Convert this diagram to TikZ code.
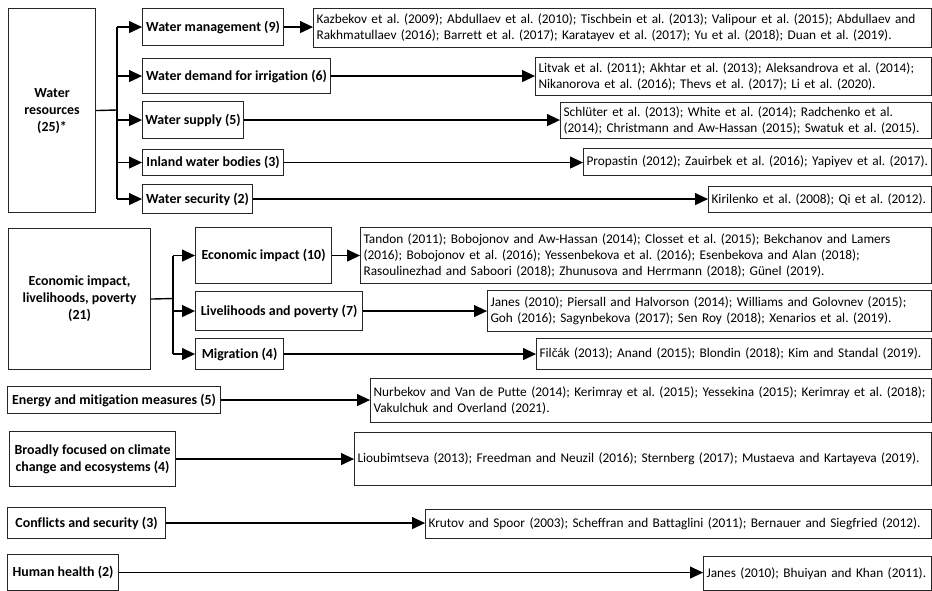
\documentclass[tikz,border=0pt]{standalone}
\usepackage{fontspec}
\setmainfont{Carlito}[Ligatures=NoCommon]
\usetikzlibrary{arrows.meta}

\begin{document}
\begin{tikzpicture}[x=1pt,y=-1pt,
        topic/.style={draw=black!85,line width=1.1pt,anchor=north west,align=center,inner sep=2pt,
            font=\bfseries\fontsize{13.9}{17}\selectfont\frenchspacing},
        refs/.style={draw=black!85,line width=1.1pt,anchor=north west,align=left,inner xsep=3pt,inner ysep=2pt,
            font=\fontsize{13.3}{16.3}\selectfont\frenchspacing},
        link/.style={line width=1.2pt,-{Triangle[length=13pt,width=12pt]}},
        fork/.style={line width=1.4pt}]
        \useasboundingbox (0,0) rectangle (932,591);

        % water resources
        \node[topic,minimum width=87,minimum height=204] (wr) at (8,8) {Water\\resources\\(25)*};
        \node[topic,minimum width=141,minimum height=37] (wm) at (142,8) {Water management (9)};
        \node[topic,minimum width=188,minimum height=35] (wd) at (142,58) {Water demand for irrigation (6)};
        \node[topic,minimum width=101,minimum height=37] (ws) at (142,101) {Water supply (5)};
        \node[topic,minimum width=141,minimum height=26] (wi) at (142,149) {Inland water bodies (3)};
        \node[topic,minimum width=110,minimum height=29] (wsec) at (142,184) {Water security (2)};

        \node[refs,text width=612,minimum height=39] (wmref) at (313,8) {Kazbekov et al. (2009); Abdullaev et al. (2010); Tischbein et al. (2013); Valipour et al. (2015); Abdullaev and\\Rakhmatullaev (2016); Barrett et al. (2017); Karatayev et al. (2017); Yu et al. (2018); Duan et al. (2019).};
        \node[refs,text width=390,minimum height=38] (wdref) at (535,57) {Litvak et al. (2011); Akhtar et al. (2013); Aleksandrova et al. (2014);\\Nikanorova et al. (2016); Thevs et al. (2017); Li et al. (2020).};
        \node[refs,text width=365,minimum height=36] (wsref) at (560,102) {Schlüter et al. (2013); White et al. (2014); Radchenko et al.\\(2014); Christmann and Aw-Hassan (2015); Swatuk et al. (2015).};
        \node[refs,text width=342,minimum height=27] (wiref) at (583,148) {Propastin (2012); Zauirbek et al. (2016); Yapiyev et al. (2017).};
        \node[refs,text width=217,minimum height=26] (wsecref) at (708,186) {Kirilenko et al. (2008); Qi et al. (2012).};

        \coordinate (wfork) at (117,110);
        \draw[fork] (wr.east) -- (wfork);
        \draw[fork] (wfork |- wm.west) -- (wfork |- wsec.west);
        \foreach \n in {wm,wd,ws,wi,wsec} {
            \draw[link] (wfork |- \n.west) -- (\n.west);
            \draw[link] (\n.east) -- (\n.east -| \n ref.west);
        }

        % economic impact
        \node[topic,minimum width=142,minimum height=141] (ec) at (8,228) {Economic impact,\\livelihoods, poverty\\(21)};
        \node[topic,minimum width=136,minimum height=56] (ei) at (195,227) {Economic impact (10)};
        \node[topic,minimum width=167,minimum height=39] (lp) at (195,291) {Livelihoods and poverty (7)};
        \node[topic,minimum width=88,minimum height=31] (mg) at (195,338) {Migration (4)};

        \node[refs,text width=565,minimum height=56] (eiref) at (360,227) {Tandon (2011); Bobojonov and Aw-Hassan (2014); Closset et al. (2015); Bekchanov and Lamers\\(2016); Bobojonov et al. (2016); Yessenbekova et al. (2016); Esenbekova and Alan (2018);\\Rasoulinezhad and Saboori (2018); Zhunusova and Herrmann (2018); Günel (2019).};
        \node[refs,text width=438,minimum height=41] (lpref) at (487,290) {Janes (2010); Piersall and Halvorson (2014); Williams and Golovnev (2015);\\Goh (2016); Sagynbekova (2017); Sen Roy (2018); Xenarios et al. (2019).};
        \node[refs,text width=389,minimum height=31] (mgref) at (536,338) {Filčák (2013); Anand (2015); Blondin (2018); Kim and Standal (2019).};

        \coordinate (efork) at (173,298.5);
        \draw[fork] (ec.east) -- (efork);
        \draw[fork] (efork |- ei.west) -- (efork |- mg.west);
        \foreach \n in {ei,lp,mg} {
            \draw[link] (efork |- \n.west) -- (\n.west);
            \draw[link] (\n.east) -- (\n.east -| \n ref.west);
        }

        % single topics
        \node[topic,minimum width=213,minimum height=27] (en) at (7,386) {Energy and mitigation measures (5)};
        \node[topic,minimum width=166,minimum height=55] (cl) at (9,431) {Broadly focused on climate\\change and ecosystems (4)};
        \node[topic,minimum width=158,minimum height=31] (cf) at (7,507) {Conflicts and security (3)};
        \node[topic,minimum width=111,minimum height=36] (hh) at (7,554) {Human health (2)};

        \node[refs,text width=555,minimum height=44] (enref) at (370,378) {Nurbekov and Van de Putte (2014); Kerimray et al. (2015); Yessekina (2015); Kerimray et al. (2018);\\Vakulchuk and Overland (2021).};
        \node[refs,text width=571,minimum height=53] (clref) at (354,432) {Lioubimtseva (2013); Freedman and Neuzil (2016); Sternberg (2017); Mustaeva and Kartayeva (2019).};
        \node[refs,text width=500,minimum height=29] (cfref) at (425,509) {Krutov and Spoor (2003); Scheffran and Battaglini (2011); Bernauer and Siegfried (2012).};
        \node[refs,text width=222,minimum height=34] (hhref) at (703,556) {Janes (2010); Bhuiyan and Khan (2011).};

        \foreach \n in {en,cl,cf,hh}
            \draw[link] (\n.east) -- (\n.east -| \n ref.west);
\end{tikzpicture}
\end{document}
